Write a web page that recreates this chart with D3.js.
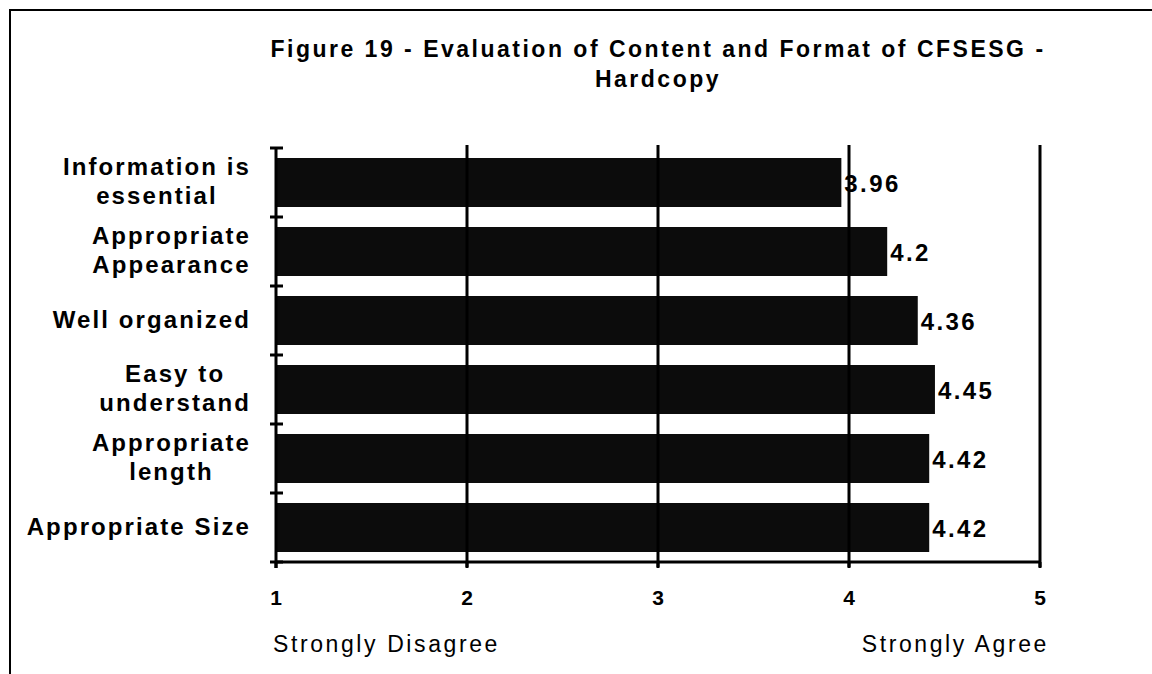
<!DOCTYPE html>
<html>
<head>
<meta charset="utf-8">
<script src="https://cdn.jsdelivr.net/npm/d3@7"></script>
<style>
  html, body { margin: 0; padding: 0; background: #fff; }
  svg { display: block; font-family: "Liberation Sans", Arial, sans-serif; }
</style>
</head>
<body>
<svg id="chart" width="1152" height="674"></svg>
<script>
// chart data
const titleLines = ["Figure 19 - Evaluation of Content and Format of CFSESG -", "Hardcopy"];
const categories = [
  ["Information is", "essential"],
  ["Appropriate", "Appearance"],
  ["Well organized"],
  ["Easy to", "understand"],
  ["Appropriate", "length"],
  ["Appropriate Size"]
];
const values = [3.96, 4.2, 4.36, 4.45, 4.42, 4.42];
const valueLabels = ["3.96", "4.2", "4.36", "4.45", "4.42", "4.42"];
const xTicks = [1, 2, 3, 4, 5];
const scaleEnds = ["Strongly Disagree", "Strongly Agree"];

const svg = d3.select("#chart");
const ink = "#000";

// outer frame (only top and left edges show in the scan)
svg.append("path")
   .attr("d", "M10,674 L10,10 L1152,10")
   .attr("fill", "none")
   .attr("stroke", ink)
   .attr("stroke-width", 2);

const plot = { left: 276, right: 1040, top: 148, bottom: 562 };

const x = d3.scaleLinear().domain([1, 5]).range([plot.left, plot.right]);
const keys = categories.map((c, i) => i);
const y = d3.scaleBand().domain(keys)
            .range([plot.top, plot.bottom])
            .paddingInner(0.29).paddingOuter(0.145);
const step = y.step();
const gap = (step - y.bandwidth()) / 2;

// title
svg.append("g").selectAll("text")
   .data(titleLines)
   .enter().append("text")
   .attr("x", 658)
   .attr("y", (d, i) => 57 + i * 30)
   .attr("text-anchor", "middle")
   .attr("font-size", 23)
   .attr("font-weight", "bold")
   .attr("letter-spacing", 2.5)
   .text(d => d);

// bars
svg.append("g").selectAll("rect")
   .data(values)
   .enter().append("rect")
   .attr("x", x(1))
   .attr("y", (d, i) => y(i))
   .attr("width", d => x(d) - x(1))
   .attr("height", y.bandwidth())
   .attr("fill", "#0c0c0c");

// vertical gridlines at 2..5
svg.append("g").selectAll("line")
   .data(xTicks.slice(1))
   .enter().append("line")
   .attr("x1", d => x(d)).attr("x2", d => x(d))
   .attr("y1", plot.top - 3).attr("y2", plot.bottom + 5)
   .attr("stroke", ink).attr("stroke-width", 3);

// bottom axis line and ticks
svg.append("line")
   .attr("x1", x(1)).attr("x2", x(5))
   .attr("y1", plot.bottom).attr("y2", plot.bottom)
   .attr("stroke", ink).attr("stroke-width", 3);
svg.append("g").selectAll("line")
   .data(xTicks)
   .enter().append("line")
   .attr("x1", d => x(d)).attr("x2", d => x(d))
   .attr("y1", plot.bottom).attr("y2", plot.bottom + 6)
   .attr("stroke", ink).attr("stroke-width", 3);

// left axis with crossing ticks at the category boundaries
svg.append("line")
   .attr("x1", plot.left).attr("x2", plot.left)
   .attr("y1", plot.top).attr("y2", plot.bottom + 6)
   .attr("stroke", ink).attr("stroke-width", 3);
const bounds = keys.map(i => y(i) - gap).concat([plot.bottom]);
svg.append("g").selectAll("line")
   .data(bounds)
   .enter().append("line")
   .attr("x1", plot.left - 6).attr("x2", plot.left + 7)
   .attr("y1", d => d).attr("y2", d => d)
   .attr("stroke", ink).attr("stroke-width", 3);

// x tick labels
svg.append("g").selectAll("text")
   .data(xTicks)
   .enter().append("text")
   .attr("x", d => x(d))
   .attr("y", 605)
   .attr("text-anchor", "middle")
   .attr("font-size", 21)
   .attr("font-weight", "bold")
   .text(d => d);

// scale end captions
svg.append("text")
   .attr("x", x(1) - 3)
   .attr("y", 652)
   .attr("font-size", 23)
   .attr("letter-spacing", 2.6)
   .text(scaleEnds[0]);
svg.append("text")
   .attr("x", x(5) + 9)
   .attr("y", 652)
   .attr("text-anchor", "end")
   .attr("font-size", 23)
   .attr("letter-spacing", 2.6)
   .text(scaleEnds[1]);

// value labels at bar ends
svg.append("g").selectAll("text")
   .data(values)
   .enter().append("text")
   .attr("x", d => x(d) + 3)
   .attr("y", (d, i) => y(i) + y.bandwidth() / 2 + 9)
   .attr("font-size", 24)
   .attr("font-weight", "bold")
   .attr("letter-spacing", 2.4)
   .text((d, i) => valueLabels[i]);

// category labels: block right-aligned, lines centred within block
const labelRight = 251;
const lineH = 29;
const catG = svg.append("g");
categories.forEach((lines, i) => {
  const g = catG.append("g");
  const texts = g.selectAll("text")
     .data(lines)
     .enter().append("text")
     .attr("font-size", 24)
     .attr("font-weight", "bold")
     .attr("letter-spacing", 2.1)
     .attr("text-anchor", "middle")
     .text(d => d);
  let maxW = 0;
  texts.each(function() { maxW = Math.max(maxW, this.getComputedTextLength()); });
  const cx = labelRight - maxW / 2;
  const cy = y(i) + y.bandwidth() / 2;
  texts.attr("x", cx)
       .attr("y", (d, k) => cy + 7 + (k - (lines.length - 1) / 2) * lineH);
});
</script>
</body>
</html>
